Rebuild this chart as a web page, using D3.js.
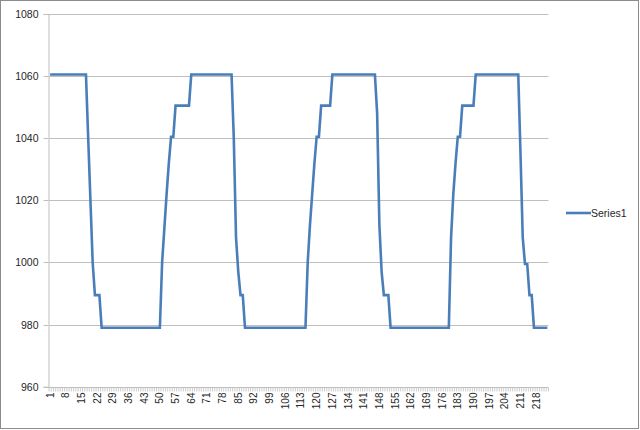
<!DOCTYPE html>
<html>
<head>
<meta charset="utf-8">
<script src="https://cdn.jsdelivr.net/npm/d3@7"></script>
<style>
  html, body { margin: 0; padding: 0; background: #fff; }
  svg { display: block; }
  text { font-family: "Liberation Sans", Arial, sans-serif; fill: #262626; }
</style>
</head>
<body>
<svg id="chart" width="640" height="430"></svg>
<script>
// ---- data ----
const seriesName = "Series1";
const values = [
  1060.5,1060.5,1060.5,1060.5,1060.5,1060.5,1060.5,1060.5,1060.5,1060.5,
  1060.5,1060.5,1060.5,1060.5,1060.5,1060.5,1060.5,
  1040,1020,1000,989.5,989.5,989.5,
  979,979,979,979,979,979,979,979,979,979,979,979,979,979,979,979,979,979,979,979,979,979,979,979,979,979,979,
  1000,1011,1022,1032,1040.5,1040.5,
  1050.5,1050.5,1050.5,1050.5,1050.5,1050.5,1050.5,
  1060.5,1060.5,1060.5,1060.5,1060.5,1060.5,1060.5,1060.5,1060.5,1060.5,
  1060.5,1060.5,1060.5,1060.5,1060.5,1060.5,1060.5,1060.5,1060.5,
  1040,1008,997,989.5,989.5,
  979,979,979,979,979,979,979,979,979,979,979,979,979,979,979,979,979,979,979,979,979,979,979,979,979,979,979,979,
  1000,1012,1022,1032,1040.5,1040.5,
  1050.5,1050.5,1050.5,1050.5,1050.5,
  1060.5,1060.5,1060.5,1060.5,1060.5,1060.5,1060.5,1060.5,1060.5,1060.5,
  1060.5,1060.5,1060.5,1060.5,1060.5,1060.5,1060.5,1060.5,1060.5,1060.5,
  1048,1012,997,989.5,989.5,989.5,
  979,979,979,979,979,979,979,979,979,979,979,979,979,979,979,979,979,979,979,979,979,979,979,979,979,979,979,
  1008,1022,1032,1040.5,1040.5,
  1050.5,1050.5,1050.5,1050.5,1050.5,1050.5,
  1060.5,1060.5,1060.5,1060.5,1060.5,1060.5,1060.5,1060.5,1060.5,1060.5,
  1060.5,1060.5,1060.5,1060.5,1060.5,1060.5,1060.5,1060.5,1060.5,1060.5,
  1035,1008,999.5,999.5,989.5,989.5,
  979,979,979,979,979,979,979
];
const categories = values.map((v, i) => i + 1);
const xTickLabels = [1,8,15,22,29,36,43,50,57,64,71,78,85,92,99,106,113,120,127,134,141,148,155,162,169,176,183,190,197,204,211,218];
const yTicks = [960,980,1000,1020,1040,1060,1080];

// ---- layout ----
const svg = d3.select("#chart");
const plot = { left: 49, right: 548.5, top: 14, bottom: 386.7 };

const x = d3.scaleBand().domain(categories).range([plot.left, plot.right]).padding(0);
const y = d3.scaleLinear().domain([960, 1080]).range([plot.bottom, plot.top]);
const cx = c => x(c) + x.bandwidth() / 2;

// outer border
svg.append("rect").attr("x", 0.5).attr("y", 0.5).attr("width", 638).attr("height", 428)
  .attr("fill", "#fff").attr("stroke", "#8c8c8c").attr("stroke-width", 1);

// gridlines
svg.append("g").selectAll("line").data(yTicks.filter(t => t !== 960)).join("line")
  .attr("x1", plot.left).attr("x2", plot.right)
  .attr("y1", d => Math.round(y(d)) + 0.5).attr("y2", d => Math.round(y(d)) + 0.5)
  .attr("stroke", "#bfbfbf").attr("stroke-width", 1);

// y axis
const yAxis = d3.axisLeft(y).tickValues(yTicks).tickSize(5).tickPadding(5).tickFormat(d3.format("d"));
const gy = svg.append("g").attr("transform", `translate(${plot.left - 0.5},0)`).call(yAxis);
gy.select(".domain").attr("stroke", "#bfbfbf");
gy.selectAll(".tick line").attr("stroke", "#bfbfbf");
gy.selectAll(".tick").attr("transform", d => `translate(0,${Math.round(y(d)) + 0.5})`);
gy.selectAll("text").attr("font-size", "10.5px").attr("fill", "#262626")
  .style("font-family", "'Liberation Sans', Arial, sans-serif");

// x axis line
const axisY = Math.round(y(960)) + 0.5;
svg.append("line").attr("x1", plot.left - 0.5).attr("x2", plot.right).attr("y1", axisY).attr("y2", axisY)
  .attr("stroke", "#bfbfbf");
// x ticks at every category boundary
const bounds = categories.map(c => x(c)).concat([plot.right]);
svg.append("g").selectAll("line").data(bounds).join("line")
  .attr("x1", d => d).attr("x2", d => d).attr("y1", axisY).attr("y2", axisY + 4)
  .attr("stroke", "#bfbfbf").attr("stroke-width", 0.8);

// x labels (rotated)
svg.append("g").selectAll("text").data(xTickLabels).join("text")
  .attr("transform", d => `translate(${cx(d)},${axisY + 5}) rotate(-90)`)
  .attr("text-anchor", "end").attr("dy", "0.35em")
  .attr("font-size", "10px")
  .text(d => d);

// series line
const line = d3.line().x((d, i) => cx(categories[i])).y(d => y(d));
svg.append("path").datum(values).attr("d", line)
  .attr("fill", "none").attr("stroke", "#4a7ebb").attr("stroke-width", 2.6)
  .attr("stroke-linejoin", "miter").attr("stroke-linecap", "butt");

// legend
const lg = svg.append("g").attr("transform", "translate(566,213)");
lg.append("line").attr("x1", 0).attr("x2", 25).attr("y1", 0).attr("y2", 0)
  .attr("stroke", "#4a7ebb").attr("stroke-width", 2.6);
lg.append("text").attr("x", 25).attr("y", 0).attr("dy", "0.35em")
  .attr("font-size", "10.5px").text(seriesName);
</script>
</body>
</html>
